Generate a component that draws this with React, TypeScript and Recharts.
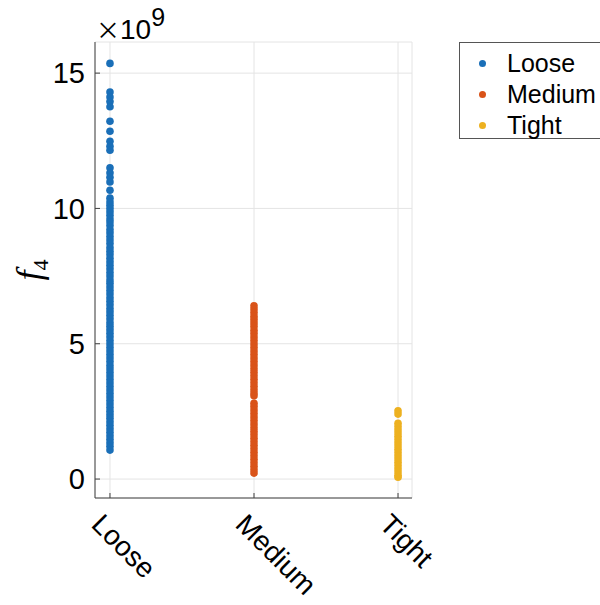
import { ScatterChart, Scatter, XAxis, YAxis, CartesianGrid } from "recharts";

const categories = ["Loose", "Medium", "Tight"];
const seriesColors = ["#1a6fb8", "#D95319", "#EDB120"];

// values in units of 1e9
const looseValues = [
  15.36, 14.3, 14.12, 13.95, 13.76, 13.22, 12.85, 12.48, 12.3, 12.15, 11.5,
  11.32, 11.15, 10.98, 10.67, 10.38, 10.24, 10.12, 10.0, 9.88, 9.75, 9.61, 9.5,
  9.37, 9.22, 9.1, 8.96, 8.83, 8.7, 8.55, 8.42, 8.3, 8.16, 8.03, 7.9, 7.77,
  7.63, 7.5, 7.36, 7.24, 7.1, 6.97, 6.84, 6.7, 6.57, 6.44, 6.3, 6.18, 6.05,
  5.92, 5.78, 5.65, 5.52, 5.39, 5.26, 5.12, 4.99, 4.86, 4.73, 4.6, 4.47, 4.34,
  4.2, 4.07, 3.94, 3.81, 3.68, 3.55, 3.42, 3.29, 3.16, 3.03, 2.9, 2.77, 2.64,
  2.51, 2.38, 2.25, 2.12, 1.99, 1.86, 1.73, 1.6, 1.47, 1.34, 1.21, 1.07,
];
const mediumValues = [
  6.4, 6.28, 6.15, 6.02, 5.9, 5.77, 5.64, 5.5, 5.38, 5.25, 5.12, 4.99, 4.86,
  4.73, 4.6, 4.47, 4.34, 4.21, 4.08, 3.95, 3.82, 3.69, 3.56, 3.43, 3.3, 3.18,
  3.08, 2.8, 2.68, 2.55, 2.42, 2.29, 2.16, 2.03, 1.9, 1.77, 1.64, 1.51, 1.38,
  1.25, 1.12, 0.99, 0.86, 0.73, 0.6, 0.47, 0.34, 0.22,
];
const tightValues = [
  2.52, 2.4, 2.06, 1.94, 1.82, 1.7, 1.58, 1.46, 1.34, 1.22, 1.1, 0.98, 0.86,
  0.74, 0.62, 0.5, 0.38, 0.26, 0.14, 0.07,
];
const yTicks = [0, 5, 10, 15];
const xTicks = [0, 1, 2];

const FONT = "'Liberation Sans', Arial, sans-serif";

const toPoints = (values: number[], idx: number) =>
  values.map((v) => ({ x: idx, y: v }));

const seriesData = [
  toPoints(looseValues, 0),
  toPoints(mediumValues, 1),
  toPoints(tightValues, 2),
];

const XTick = (props: any) => {
  const { x, y, payload } = props;
  const ax = x - 20;
  const ay = y + 33;
  return (
    <text
      x={ax}
      y={ay}
      transform={`rotate(45, ${ax}, ${ay})`}
      textAnchor="start"
      fontSize={28}
      fontFamily={FONT}
      fill="#000"
    >
      {categories[payload.value]}
    </text>
  );
};

export default function App() {
  return (
    <div
      style={{
        position: "absolute",
        left: 0,
        top: 0,
        width: 600,
        height: 605,
        overflow: "hidden",
        background: "#fff",
        fontFamily: FONT,
      }}
    >
      <ScatterChart
        width={600}
        height={605}
        margin={{ top: 42, right: 188, bottom: 0, left: 0 }}
      >
        <CartesianGrid stroke="#e4e4e4" strokeWidth={1} />
        <XAxis
          type="number"
          dataKey="x"
          domain={[-0.104, 2.097]}
          ticks={xTicks}
          allowDataOverflow
          height={107}
          tickSize={-5}
          tickMargin={0}
          axisLine={{ stroke: "#404040" }}
          tickLine={{ stroke: "#404040" }}
          tick={<XTick />}
          interval={0}
        />
        <YAxis
          type="number"
          dataKey="y"
          domain={[-0.7, 16.15]}
          ticks={yTicks}
          allowDataOverflow
          width={95}
          tickSize={-5}
          tickMargin={15}
          axisLine={{ stroke: "#404040" }}
          tickLine={{ stroke: "#404040" }}
          tick={{ fontSize: 29, fill: "#000", fontFamily: FONT }}
          interval={0}
        />
        {seriesData.map((pts, i) => (
          <Scatter
            key={categories[i]}
            name={categories[i]}
            data={pts}
            fill={seriesColors[i]}
            isAnimationActive={false}
            shape={(p: any) => (
              <circle cx={p.cx} cy={p.cy} r={3.8} fill={seriesColors[i]} />
            )}
          />
        ))}
      </ScatterChart>

      {/* exponent label */}
      <div
        style={{
          position: "absolute",
          left: 96,
          top: 14,
          height: 30,
          fontSize: 28,
          lineHeight: "30px",
          color: "#000",
          whiteSpace: "nowrap",
        }}
      >
        <span style={{ fontFamily: "'Noto Sans CJK JP', sans-serif", fontSize: 24 }}>
          ×
        </span>
        10
        <span style={{ fontSize: 25, position: "relative", top: -13 }}>9</span>
      </div>

      {/* y axis label */}
      <div
        style={{
          position: "absolute",
          left: 31,
          top: 270,
          transform: "translate(-50%, -50%) rotate(-90deg)",
          fontSize: 36,
          lineHeight: "38px",
          whiteSpace: "nowrap",
          color: "#000",
          fontFamily: "'Liberation Serif', serif",
        }}
      >
        <i>f</i>
        <span style={{ fontSize: 22, position: "relative", top: 7 }}>4</span>
      </div>

      {/* legend */}
      <div
        style={{
          position: "absolute",
          left: 459,
          top: 42,
          width: 141,
          height: 97,
          border: "1px solid #555",
          borderRight: "none",
          boxSizing: "border-box",
        }}
      >
        {categories.map((c, i) => (
          <div
            key={c}
            style={{
              position: "absolute",
              left: 0,
              top: 6 + i * 31,
              height: 28,
              lineHeight: "28px",
              display: "flex",
              alignItems: "center",
              whiteSpace: "nowrap",
            }}
          >
            <span
              style={{
                display: "inline-block",
                width: 7,
                height: 7,
                borderRadius: "50%",
                background: seriesColors[i],
                marginLeft: 19,
                marginRight: 21,
              }}
            />
            <span style={{ fontSize: 25, lineHeight: "28px", color: "#000" }}>
              {c}
            </span>
          </div>
        ))}
      </div>
    </div>
  );
}
